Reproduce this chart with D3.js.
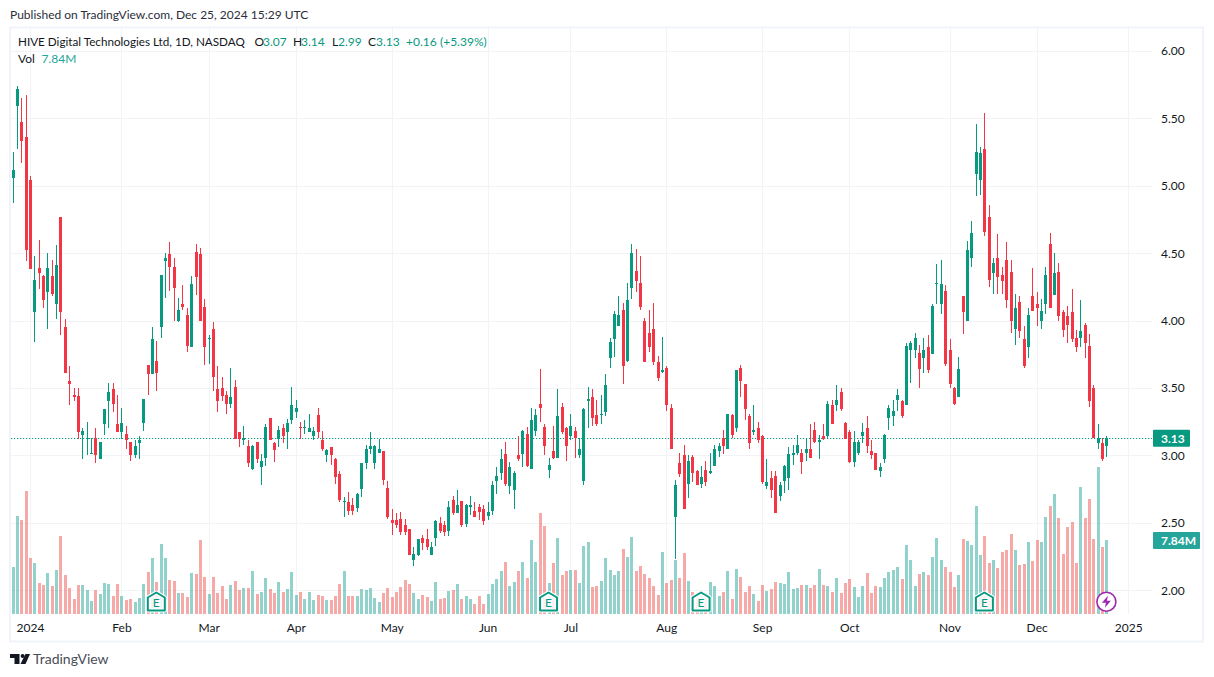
<!DOCTYPE html>
<html><head><meta charset="utf-8">
<style>html,body{margin:0;padding:0;background:#fff}svg{display:block}text{font-family:Lato,sans-serif}</style>
<script src="https://cdnjs.cloudflare.com/ajax/libs/d3/7.8.5/d3.min.js"></script>
</head><body><svg id="c" width="1214" height="677"></svg>
<script>
const opens=[5.06,5.59,5.47,5.36,5.04,4.06,4.39,4.33,4.21,4.33,
4.12,4.77,3.95,3.55,3.45,3.44,3.15,3.12,3.01,3.13,
2.97,3.23,3.40,3.49,3.23,3.17,3.16,3.10,3.00,3.09,
3.24,3.67,3.60,3.70,3.95,4.44,4.49,4.40,4.00,4.12,
4.04,3.80,4.51,4.49,4.10,3.86,3.94,3.49,3.50,3.45,
3.38,3.51,3.17,3.11,3.07,2.90,3.10,2.91,2.98,3.28,
3.09,3.12,3.20,3.17,3.26,3.32,3.21,3.20,3.17,3.14,
3.30,3.11,3.00,3.06,2.97,2.86,2.65,2.65,2.63,2.61,
2.75,2.94,3.05,2.94,3.02,3.03,2.76,2.52,2.52,2.53,
2.48,2.45,2.22,2.26,2.39,2.38,2.26,2.39,2.50,2.48,
2.44,2.67,2.57,2.66,2.49,2.62,2.59,2.62,2.60,2.55,
2.59,2.81,2.87,3.01,2.77,2.74,3.00,3.01,3.16,2.90,
3.18,3.38,3.21,2.89,3.03,2.98,3.36,3.20,3.14,3.18,
3.00,2.81,3.40,3.43,3.30,3.30,3.32,3.72,3.86,3.96,
4.08,3.70,4.24,4.37,4.28,4.00,3.91,3.94,3.69,3.62,
3.65,3.35,2.54,2.94,3.00,2.79,2.99,2.88,2.79,2.89,
2.87,2.92,3.03,3.13,3.05,3.30,3.20,3.65,3.53,3.29,
3.17,3.20,3.14,2.77,2.83,2.85,2.70,2.81,2.83,3.00,
3.02,3.02,3.02,3.05,3.19,3.10,3.14,3.14,3.37,3.37,
3.47,3.24,3.17,2.95,3.02,3.14,3.20,3.03,3.02,2.88,
2.97,3.28,3.29,3.41,3.40,3.37,3.78,3.78,3.76,3.72,
3.80,3.75,4.27,4.12,4.22,3.78,3.50,3.43,4.18,4.00,
4.46,5.09,5.04,5.27,4.77,4.35,4.46,4.34,4.45,4.36,
3.94,4.14,3.86,3.80,4.18,4.12,4.00,4.12,4.57,4.19,
4.36,4.06,4.03,4.06,3.87,3.87,3.97,3.81,3.50,3.09,
3.09,3.07];
const closes=[5.12,5.72,5.33,4.52,4.38,4.30,4.35,4.15,4.39,4.20,
4.41,4.06,3.61,3.53,3.43,3.17,3.18,3.13,3.02,3.00,
3.10,3.34,3.47,3.38,3.17,3.24,3.11,3.00,3.07,3.11,
3.42,3.60,3.86,3.61,4.34,4.46,4.40,4.24,4.08,4.10,
3.81,4.27,4.32,4.00,3.80,3.87,3.58,3.40,3.44,3.38,
3.43,3.12,3.12,3.13,2.94,3.07,2.97,2.96,3.21,3.11,
3.04,3.19,3.14,3.24,3.37,3.35,3.20,3.21,3.20,3.18,
3.17,3.05,3.04,3.00,2.84,2.67,2.66,2.59,2.59,2.71,
2.94,3.05,3.07,3.07,3.05,2.82,2.54,2.50,2.48,2.43,
2.43,2.26,2.27,2.38,2.35,2.32,2.32,2.51,2.44,2.43,
2.62,2.57,2.63,2.48,2.63,2.63,2.54,2.58,2.51,2.58,
2.78,2.85,2.97,2.79,2.91,2.87,2.97,3.18,2.92,3.26,
3.30,3.35,3.07,2.93,2.98,3.29,3.17,3.07,3.22,3.13,
3.05,3.34,3.42,3.28,3.23,3.31,3.52,3.84,4.05,4.04,
3.66,4.15,4.50,4.29,4.10,3.69,3.80,3.69,3.57,3.63,
3.37,3.05,2.78,2.86,2.60,2.96,2.87,2.78,2.84,2.80,
2.88,3.05,3.07,3.07,3.31,3.15,3.63,3.55,3.34,3.09,
3.19,3.11,2.80,2.80,2.74,2.57,2.78,2.92,3.01,3.02,
3.08,2.95,3.05,2.98,3.10,3.11,3.12,3.38,3.23,3.41,
3.34,3.12,2.95,3.10,3.10,3.17,3.07,3.00,2.89,2.91,
3.15,3.35,3.33,3.45,3.29,3.81,3.83,3.87,3.64,3.78,
3.63,4.11,4.28,4.27,3.68,3.53,3.38,3.64,4.06,4.52,
4.65,5.25,5.24,4.66,4.30,4.43,4.32,4.29,4.15,4.00,
4.09,3.92,3.66,4.04,4.07,4.09,4.07,4.34,4.09,4.35,
4.03,3.93,3.97,3.86,3.80,3.92,3.83,3.40,3.13,3.13,
2.97,3.13];
const highs=[5.25,5.74,5.65,5.67,5.07,4.48,4.60,4.34,4.50,4.45,
4.56,4.77,4.01,3.66,3.50,3.50,3.20,3.25,3.13,3.20,
3.10,3.34,3.54,3.54,3.45,3.35,3.22,3.10,3.11,3.14,
3.42,3.67,3.95,3.85,4.34,4.50,4.58,4.46,4.17,4.26,
4.09,4.33,4.57,4.54,4.16,3.89,3.99,3.66,3.58,3.48,
3.65,3.56,3.17,3.22,3.11,3.08,3.10,3.01,3.23,3.28,
3.10,3.22,3.23,3.27,3.51,3.41,3.25,3.26,3.31,3.21,
3.35,3.18,3.05,3.06,2.98,2.88,2.69,2.73,2.68,2.72,
2.94,3.08,3.17,3.08,3.12,3.03,2.81,2.60,2.57,2.58,
2.53,2.45,2.32,2.38,2.41,2.45,2.36,2.52,2.54,2.51,
2.66,2.70,2.74,2.66,2.64,2.70,2.65,2.64,2.63,2.65,
2.81,2.91,3.05,3.10,2.95,2.88,3.14,3.19,3.21,3.35,
3.34,3.64,3.23,2.98,3.22,3.49,3.39,3.21,3.31,3.21,
3.13,3.35,3.51,3.49,3.41,3.45,3.60,3.87,4.07,4.18,
4.13,4.28,4.57,4.53,4.48,4.02,4.08,4.13,3.74,3.88,
3.66,3.38,2.82,3.02,3.08,3.00,3.00,2.89,2.92,2.96,
3.02,3.08,3.09,3.19,3.31,3.31,3.63,3.67,3.53,3.31,
3.37,3.25,3.15,2.97,2.88,2.88,2.80,2.93,3.06,3.08,
3.15,3.05,3.13,3.23,3.25,3.15,3.23,3.40,3.41,3.52,
3.50,3.25,3.19,3.18,3.11,3.24,3.29,3.11,3.02,2.94,
3.16,3.37,3.41,3.49,3.41,3.83,3.85,3.91,3.82,3.87,
3.89,4.12,4.42,4.45,4.26,3.86,3.51,3.73,4.18,4.59,
4.74,5.46,5.29,5.54,4.86,4.46,4.64,4.40,4.58,4.45,
4.20,4.18,3.96,4.09,4.39,4.21,4.16,4.40,4.65,4.50,
4.43,4.08,4.11,4.23,3.93,4.15,3.98,3.90,3.52,3.23,
3.13,3.14];
const lows=[4.87,5.27,5.17,4.44,4.38,3.84,4.23,4.09,3.94,4.18,
4.01,3.89,3.61,3.37,3.40,3.12,2.97,3.00,3.01,2.94,
2.97,3.15,3.20,3.32,3.17,3.12,3.05,2.96,2.98,2.97,
3.18,3.45,3.60,3.48,3.87,4.17,4.22,4.00,3.99,4.08,
3.77,3.80,4.19,4.00,3.67,3.68,3.48,3.32,3.40,3.31,
3.35,3.12,3.06,3.08,2.91,2.89,2.94,2.78,2.92,3.11,
2.95,3.06,3.09,3.05,3.23,3.28,3.12,3.16,3.17,3.11,
3.13,3.03,2.95,2.93,2.79,2.65,2.54,2.56,2.56,2.58,
2.69,2.90,3.01,2.90,3.02,2.78,2.53,2.41,2.46,2.41,
2.41,2.26,2.18,2.25,2.30,2.30,2.26,2.33,2.42,2.40,
2.40,2.56,2.57,2.47,2.47,2.56,2.54,2.52,2.48,2.52,
2.56,2.71,2.82,2.77,2.71,2.60,2.96,2.91,2.91,2.90,
3.14,3.25,3.00,2.83,2.97,2.98,3.16,2.96,3.11,2.98,
2.98,2.78,3.20,3.22,3.22,3.23,3.29,3.65,3.73,3.96,
3.53,3.69,4.16,4.21,4.08,3.69,3.77,3.67,3.55,3.61,
3.33,3.05,2.23,2.84,2.60,2.68,2.80,2.78,2.76,2.77,
2.86,2.92,2.99,3.01,3.05,3.13,3.17,3.43,3.26,3.05,
3.15,3.09,2.79,2.75,2.68,2.57,2.66,2.72,2.74,2.93,
3.00,2.86,2.96,2.98,3.09,2.97,3.11,3.12,3.23,3.33,
3.33,3.12,2.94,2.91,3.00,3.09,3.02,2.97,2.89,2.84,
2.94,3.19,3.22,3.33,3.28,3.37,3.54,3.72,3.50,3.61,
3.61,3.75,4.12,4.05,3.66,3.50,3.37,3.43,3.90,4.00,
4.40,4.92,4.93,4.63,4.25,4.20,4.20,4.20,4.09,3.91,
3.82,3.87,3.65,3.72,4.07,3.96,3.94,4.05,4.09,4.19,
4.00,3.88,3.83,3.84,3.77,3.80,3.72,3.36,3.13,3.05,
2.96,2.99];
const volumes=[5.00,10.43,10.00,12.98,5.96,5.43,3.30,3.09,4.36,2.98,
4.68,8.30,4.15,2.77,1.60,3.09,3.09,2.55,1.38,2.55,
2.13,3.30,3.19,1.92,3.19,1.92,1.49,1.60,1.28,1.70,
3.19,4.47,5.96,3.41,7.45,5.96,3.62,3.51,2.23,2.23,
1.81,4.36,4.26,7.88,3.94,2.13,3.94,2.23,2.98,1.60,
3.09,3.51,2.55,2.77,2.77,4.58,2.13,2.34,3.83,2.66,
2.23,3.41,2.34,2.66,4.47,2.02,2.34,1.60,2.34,1.49,
2.02,1.92,1.49,1.49,1.92,3.19,4.58,1.92,1.92,1.92,
2.66,2.55,2.77,1.70,1.28,2.23,2.77,1.81,2.34,2.87,
3.62,3.19,2.23,1.60,2.02,1.81,1.38,3.41,1.60,1.70,
2.45,2.55,3.19,1.60,1.92,1.60,1.06,1.92,1.06,2.13,
3.19,3.72,4.58,5.53,2.98,3.41,4.58,5.53,3.83,7.88,
5.53,10.75,9.37,3.30,5.43,8.09,4.15,4.58,4.68,4.68,
3.30,7.24,7.66,2.87,2.98,3.51,5.96,4.68,4.15,4.58,
6.92,6.07,8.20,4.58,5.11,4.26,3.80,2.98,2.02,6.60,
3.30,3.62,5.75,3.83,6.49,3.51,2.34,2.20,2.20,2.20,
3.41,2.98,1.92,2.34,4.58,1.60,4.79,3.94,2.34,2.98,
2.13,1.38,3.09,2.45,2.66,3.41,3.30,3.19,4.47,2.66,
2.77,3.05,3.05,2.73,3.05,4.75,3.05,2.94,2.31,3.80,
2.20,3.26,3.69,2.84,1.77,2.94,4.33,2.20,2.94,2.84,
3.80,4.44,4.65,4.97,3.69,7.31,5.71,2.94,4.22,4.44,
4.12,6.03,8.05,5.71,4.97,4.44,2.84,4.12,7.95,7.74,
7.31,11.46,6.24,8.27,5.39,5.71,4.86,6.56,6.78,8.48,
6.78,5.18,5.29,7.63,5.61,7.84,7.63,10.29,11.46,12.74,
10.18,6.35,9.22,9.76,5.39,13.48,10.18,12.20,7.95,15.61,
7.10,7.84];
const priceTicks=[2,2.5,3,3.5,4,4.5,5,5.5,6];
const timeTickIndex=[4,25,45,65,87,109,128,150,172,192,215,235,256];
const timeTickLabels=["2024","Feb","Mar","Apr","May","Jun","Jul","Aug","Sep","Oct","Nov","Dec","2025"];
const earningsIndex=[33,123,158,223];
const splitIndex=[251];
const lastPrice=3.13, lastVolume=7.84;
const headerText="HIVE Digital Technologies Ltd, 1D, NASDAQ";
const publishedText="Published on TradingView.com, Dec 25, 2024 15:29 UTC";

const FONT="Lato,sans-serif";
const UP="#089981",DOWN="#f23645",VUP="rgba(38,166,154,0.5)",VDOWN="rgba(239,83,80,0.5)",GRID="#f2f3f7",INK="#131722";
const svg=d3.select("#c");
const x=d3.scaleLinear().domain([0,251]).range([12.5,1106.4]);
const y=d3.scaleLinear().domain([2,6]).range([590.1,50.9]);
const vy=d3.scaleLinear().domain([0,lastVolume]).range([614,540]);
const px=i=>Math.round(x(i));

// frame
svg.append("rect").attr("x",10).attr("y",27.5).attr("width",1193).attr("height",614)
  .attr("fill","none").attr("stroke","#f0f3fa").attr("stroke-width",2);

// grid
const grid=svg.append("g").attr("shape-rendering","crispEdges").attr("stroke",GRID);
grid.selectAll(".h").data(priceTicks).join("line").attr("x1",11).attr("x2",1152)
  .attr("y1",d=>Math.round(y(d))+.5).attr("y2",d=>Math.round(y(d))+.5);
grid.selectAll(".v").data(timeTickIndex).join("line").attr("y1",28).attr("y2",614)
  .attr("x1",d=>Math.round(x(d))+.5).attr("x2",d=>Math.round(x(d))+.5);

const idx=d3.range(opens.length);
const isUp=i=>closes[i]>=opens[i];

// volume
svg.append("g").attr("shape-rendering","crispEdges").selectAll("rect").data(idx).join("rect")
  .attr("x",i=>px(i)-1).attr("width",3)
  .attr("y",i=>vy(volumes[i])).attr("height",i=>vy(0)-vy(volumes[i]))
  .attr("fill",i=>isUp(i)?VUP:VDOWN);

// last price line
svg.append("line").attr("x1",11).attr("x2",1152).attr("y1",Math.round(y(lastPrice))+.5).attr("y2",Math.round(y(lastPrice))+.5)
  .attr("stroke",UP).attr("stroke-width",1.2).attr("stroke-dasharray","1.2 1.8");

// candles
const cg=svg.append("g").attr("shape-rendering","crispEdges");
cg.selectAll(".w").data(idx).join("rect").attr("x",px).attr("width",1)
  .attr("y",i=>y(highs[i])).attr("height",i=>Math.max(1,y(lows[i])-y(highs[i])))
  .attr("fill",i=>isUp(i)?UP:DOWN);
cg.selectAll(".b").data(idx).join("rect").attr("x",i=>px(i)-1).attr("width",3)
  .attr("y",i=>y(Math.max(opens[i],closes[i])))
  .attr("height",i=>Math.max(1,Math.abs(y(opens[i])-y(closes[i]))))
  .attr("fill",i=>isUp(i)?UP:DOWN);

// axes
const ax=svg.append("g").attr("transform","translate(0,614)")
  .call(d3.axisBottom(x).tickValues(timeTickIndex).tickSize(0).tickPadding(9.5).tickFormat((d,i)=>timeTickLabels[i]));
ax.select(".domain").remove();
ax.selectAll("text").attr("fill",INK).style("font-size","12px").style("font-family",FONT);
const ay=svg.append("g").attr("transform","translate(1161,0)")
  .call(d3.axisRight(y).tickValues(priceTicks).tickSize(0).tickPadding(0).tickFormat(d3.format(".2f")));
ay.select(".domain").remove();
ay.selectAll("text").attr("fill",INK).attr("dy","0.34em").style("font-size","12px").style("font-family",FONT);

// price tags
svg.append("rect").attr("x",1153).attr("y",y(lastPrice)-8).attr("width",37).attr("height",17).attr("fill",UP).attr("rx",1);
svg.append("text").attr("x",1161).attr("y",y(lastPrice)+5).attr("fill","#fff").attr("font-size",12).attr("font-weight",700).text(d3.format(".2f")(lastPrice));
svg.append("rect").attr("x",1153).attr("y",532).attr("width",47).attr("height",17).attr("fill","#26a69a").attr("rx",1);
svg.append("text").attr("x",1161).attr("y",545).attr("fill","#fff").attr("font-size",12).attr("font-weight",700).text(lastVolume.toFixed(2)+"M");

// header
const t=(s,xx,yy,c,fs)=>svg.append("text").attr("x",xx).attr("y",yy).attr("fill",c||INK).attr("font-size",fs||12).text(s);
t(publishedText,10,19,"#2a2e39");
t(headerText,18,46,INK,11.7);
[["O",254.5,INK],["3.07",263,UP],["H",293,INK],["3.14",301,UP],["L",332,INK],["2.99",338,UP],["C",368,INK],["3.13",376,UP],["+0.16",406,UP],["(+5.39%)",440,UP]]
  .forEach(p=>t(p[0],p[1],46,p[2]));
t("Vol",18,63);
t(lastVolume.toFixed(2)+"M",41.5,63,"#26a69a");

// earnings markers
const eg=svg.append("g").selectAll("g").data(earningsIndex).join("g").attr("transform",i=>`translate(${x(i)},0)`);
eg.append("path").attr("d","M-8.5 597.5 L0 592.5 L8.5 597.5 V610.5 H-8.5 Z").attr("fill","rgba(255,255,255,.85)")
  .attr("stroke","#fff").attr("stroke-width",4).attr("stroke-linejoin","round");
eg.append("path").attr("d","M-8.5 597.5 L0 592.5 L8.5 597.5 V610.5 H-8.5 Z").attr("fill","none")
  .attr("stroke",UP).attr("stroke-width",2).attr("stroke-linejoin","round");
eg.append("text").attr("text-anchor","middle").attr("y",606.5).attr("fill",UP).attr("font-size",12).text("E");

// lightning marker
const sg=svg.append("g").selectAll("g").data(splitIndex).join("g").attr("transform",i=>`translate(${x(i)},601.7)`);
sg.append("circle").attr("r",9.5).attr("fill","#fff").attr("stroke","#9c27b0").attr("stroke-width",1.6);
sg.append("path").attr("d","M1.5 -6 L-4.5 1 H-0.5 L-1.5 6 L4.5 -1 H0.5 Z").attr("fill","#9c27b0");

// logo
const lg=svg.append("g").attr("fill","#131722");
lg.append("path").attr("d","M10 654 H19.5 V664 H14.5 V658 H10 Z");
lg.append("circle").attr("cx",22.6).attr("cy",656).attr("r",2);
lg.append("path").attr("d","M25.5 654 H30 L25.5 664 H20.5 Z");
t("TradingView",33,664,"#4a4e59",14);
</script></body></html>
